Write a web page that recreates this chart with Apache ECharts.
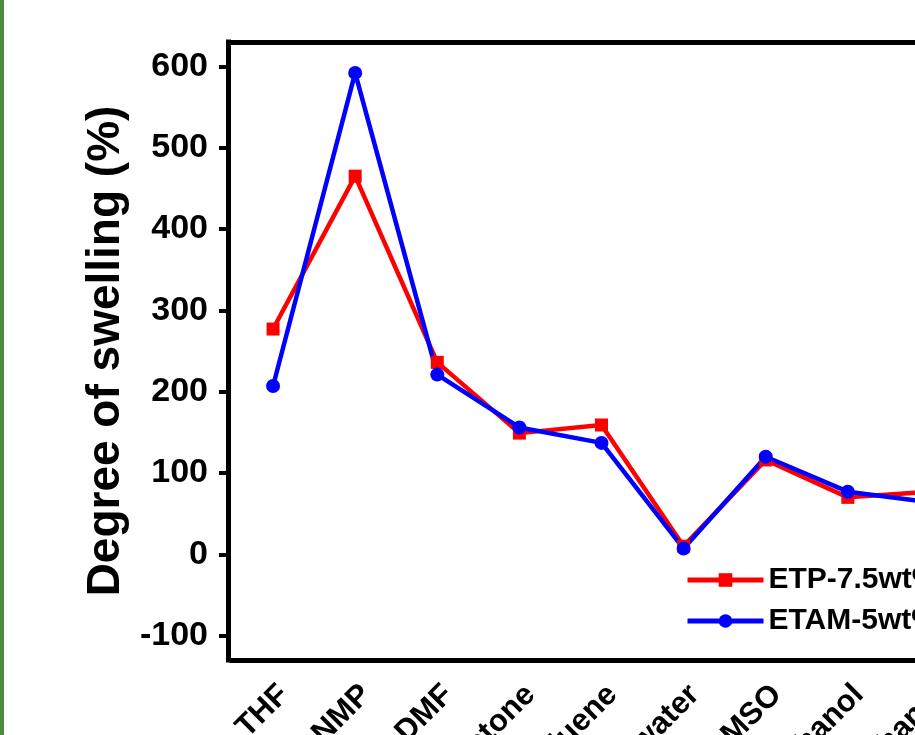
<!DOCTYPE html>
<html>
<head>
<meta charset="utf-8">
<script src="https://cdn.jsdelivr.net/npm/echarts@6/dist/echarts.min.js"></script>
<style>
  html, body { margin: 0; padding: 0; width: 915px; height: 735px; overflow: hidden; background: #fff; }
  #chart { position: absolute; left: 0; top: 0; width: 1100px; height: 800px; }
  #edge { position: absolute; left: 0; top: 0; width: 4px; height: 735px; background: #4b8b3b; }
</style>
</head>
<body>
<div id="chart"></div>
<div id="edge"></div>
<script>
const solvents = ["THF", "NMP", "DMF", "Acetone", "Toluene", "water", "DMSO", "Ethanol", "Methanol"];
const etp = [277, 465, 236, 149, 159, 10, 116, 70, 77];
const etam = [207, 592, 221, 156, 137, 7, 120, 77, 64];
const yTicks = [-100, 0, 100, 200, 300, 400, 500, 600];

const font = 'Arial, "Liberation Sans", sans-serif';
const chart = echarts.init(document.getElementById("chart"));

chart.setOption({
  animation: false,
  grid: { left: 232, top: 42, width: 739, height: 618, containLabel: false, outerBoundsMode: "none" },
  legend: {
    orient: "vertical",
    left: 685,
    top: 565,
    padding: 0,
    itemWidth: 76,
    itemHeight: 17,
    itemGap: 11,
    lineStyle: { width: 5 },
    textStyle: { fontFamily: font, fontWeight: "bold", fontSize: 30, color: "#000" },
    data: ["ETP-7.5wt%", "ETAM-5wt%"]
  },
  xAxis: [
    {
      type: "category",
      data: solvents,
      boundaryGap: true,
      axisLine: { onZero: false, lineStyle: { color: "#000", width: 5, cap: "square" } },
      axisTick: { alignWithLabel: true, length: 10, lineStyle: { color: "#000", width: 4 } },
      axisLabel: {
        rotate: 45,
        margin: 19,
        interval: 0,
        verticalAlign: "top",
        fontFamily: font,
        fontWeight: "bold",
        fontSize: 31,
        color: "#000"
      },
      splitLine: { show: false }
    },
    {
      type: "category",
      position: "top",
      data: solvents,
      axisLine: { onZero: false, lineStyle: { color: "#000", width: 5, cap: "square" } },
      axisTick: { show: false },
      axisLabel: { show: false }
    }
  ],
  yAxis: {
    type: "value",
    min: -130,
    max: 630,
    offset: 4,
    name: "Degree of swelling (%)",
    nameLocation: "middle",
    nameGap: 96,
    nameTextStyle: { fontFamily: font, fontWeight: "bold", fontSize: 46, color: "#000" },
    axisLine: { show: true, onZero: false, lineStyle: { color: "#000", width: 5, cap: "square" } },
    axisTick: { show: true, length: 9, customValues: yTicks, lineStyle: { color: "#000", width: 4 } },
    axisLabel: {
      customValues: yTicks,
      margin: 20,
      fontFamily: font,
      fontWeight: "bold",
      fontSize: 34,
      color: "#000"
    },
    splitLine: { show: false }
  },
  series: [
    {
      name: "ETP-7.5wt%",
      type: "line",
      data: etp,
      symbol: "rect",
      symbolSize: 13,
      itemStyle: { color: "#ff0000" },
      lineStyle: { color: "#ff0000", width: 4.5 }
    },
    {
      name: "ETAM-5wt%",
      type: "line",
      data: etam,
      symbol: "circle",
      symbolSize: 14,
      itemStyle: { color: "#0000ff" },
      lineStyle: { color: "#0000ff", width: 4.5 }
    }
  ]
});
</script>
</body>
</html>
